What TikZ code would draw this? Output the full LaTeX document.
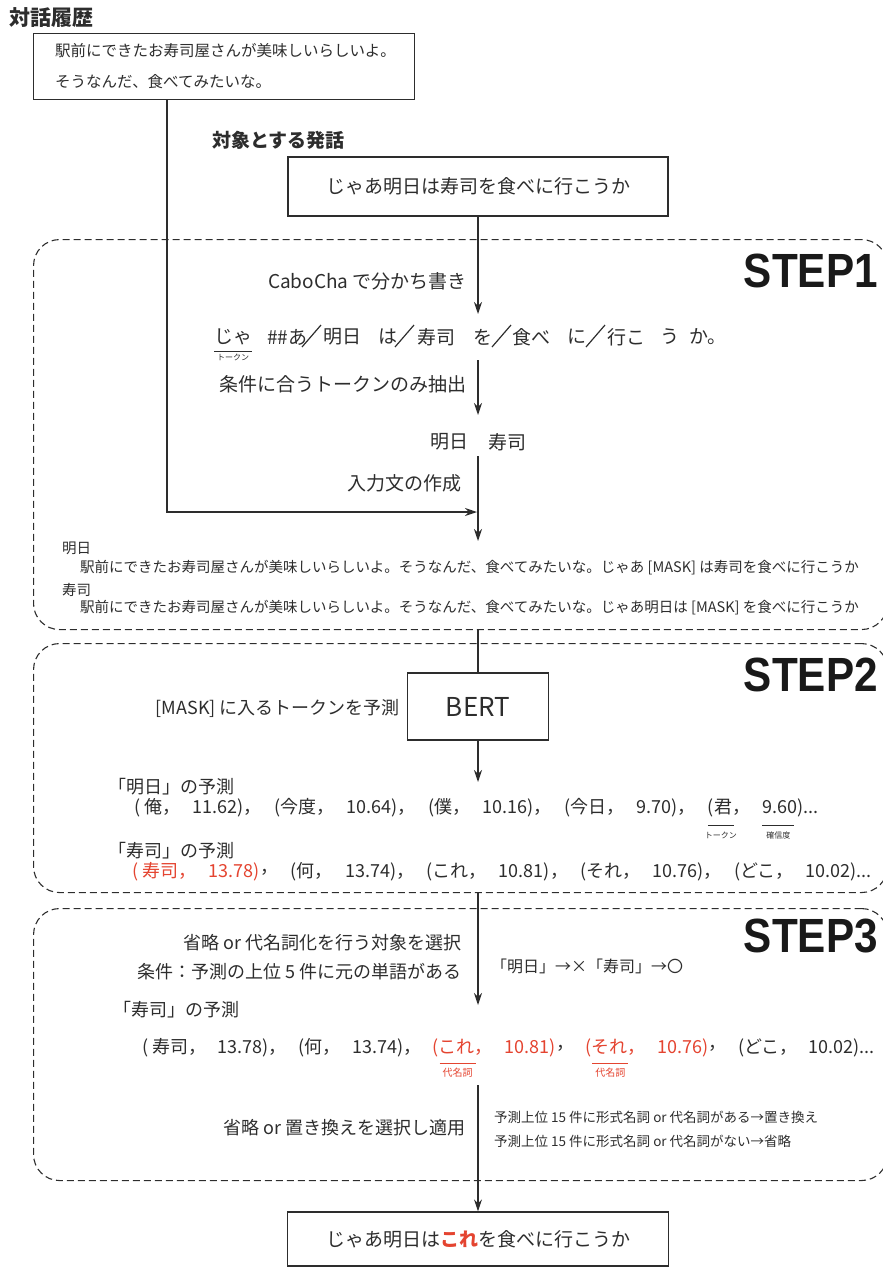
\documentclass[tikz,border=0pt]{standalone}
\usepackage{fontspec}
\usepackage{graphicx}
\setmainfont{Noto Sans CJK JP}
\newfontfamily\stepfont{Liberation Sans}
\usetikzlibrary{arrows.meta,calc}
\definecolor{ink}{RGB}{45,45,45}
\definecolor{redtxt}{RGB}{228,68,48}
\def\gapA{12}
\def\gapB{12}
\def\gapC{11.2}
\tikzset{
  box/.style={draw=ink, line width=1.2pt, inner sep=0},
  frame/.style={draw=ink, dash pattern=on 7pt off 4pt, line width=1.1pt, rounded corners=26pt, inner sep=0},
  tl/.style={inner sep=0, font=\fontsize{19}{22}\selectfont},
  tm/.style={inner sep=0, font=\fontsize{18}{21}\selectfont},
  ts/.style={inner sep=0, font=\fontsize{14.5}{17}\selectfont},
  tx/.style={inner sep=0, font=\fontsize{8}{9}\selectfont},
  tr/.style={inner sep=0, font=\fontsize{10}{11}\selectfont, text=redtxt},
  steplabel/.style={inner sep=0, font=\fontsize{48}{48}\selectfont\bfseries\stepfont, text=black!90},
  arr/.style={draw=ink, -{Stealth[length=12pt,width=8pt]}, line width=1.2pt},
  ln/.style={draw=ink, line width=1.2pt},
  ul/.style={draw=ink, line width=0.8pt},
  ulr/.style={draw=redtxt, line width=0.8pt},
}
\begin{document}
\begin{tikzpicture}[x=1pt,y=-1pt, every node/.style={text=ink}]
\useasboundingbox (0,0) rectangle (883,1267);
\clip (0,0) rectangle (883,1267);

% ---------- history ----------
\node[inner sep=0, anchor=west, font=\fontsize{21}{24}\selectfont\bfseries] (ttl) at (9,18) {対話履歴};
\node[box, minimum width=381pt, minimum height=66pt, anchor=north west] (hist) at (33,33) {};
\node[inner sep=0, anchor=west, font=\fontsize{15.5}{18}\selectfont] (h1) at (55,51) {駅前にできたお寿司屋さんが美味しいらしいよ。};
\node[inner sep=0, anchor=west, font=\fontsize{15.5}{18}\selectfont] (h2) at (55,82) {そうなんだ、食べてみたいな。};

% ---------- target ----------
\node[inner sep=0, anchor=west, font=\fontsize{19}{22}\selectfont\bfseries] (tgtlbl) at (212,140) {対象とする発話};
\node[box, tl, minimum width=380pt, minimum height=59pt] (tgt) at (478,186.5) {じゃあ明日は寿司を食べに行こうか};

% ---------- STEP1 ----------
\node[frame, minimum width=854pt, minimum height=390pt, anchor=north west] (step1) at (33,239) {};
\node[steplabel, anchor=base east] (s1) at (878,287) {\scalebox{0.88}[1]{STEP1}};

\coordinate (tokTop) at (478,314);
\draw[arr] (tgt.south) -- (tokTop);
\node[tl, anchor=east] (cabo) at (467,281) {CaboCha で分かち書き};

\node[tl, anchor=west] (k1) at (214,337) {じゃ};
\node[tl, anchor=west] (k2) at (267,337) {\#\#あ};
\node[tl, anchor=west] (k3) at (323,337) {明日};
\node[tl, anchor=west] (k4) at (378,337) {は};
\node[tl, anchor=west] (k5) at (417,337) {寿司};
\node[tl, anchor=west] (k6) at (473,337) {を};
\node[tl, anchor=west] (k7) at (512,337) {食べ};
\node[tl, anchor=west] (k8) at (567,337) {に};
\node[tl, anchor=west] (k9) at (607,337) {行こ};
\node[tl, anchor=west] (k10) at (660,337) {う};
\node[tl, anchor=west] (k11) at (689,337) {か。};
\draw[ln] (302,347) -- (321,325);
\draw[ln] (395,347) -- (414,325);
\draw[ln] (492,347) -- (511,325);
\draw[ln] (586,347) -- (605,325);
\draw[ul] (k1.west |- 0,351) -- (k1.east |- 0,351);
\node[tx] (tok1) at ($(k1.south)+(0,12)$) {トークン};

\coordinate (tokBot) at (478,360);
\coordinate (extTop) at (478,415);
\draw[arr] (tokBot) -- (extTop);
\node[tl, anchor=east] (cond) at (467,384) {条件に合うトークンのみ抽出};

\node[tl, anchor=west] (e1) at (430,442) {明日};
\node[tl, anchor=west] (e2) at (488,442) {寿司};

\coordinate (extBot) at (478,456);
\coordinate (inTip) at (478,541);
\draw[arr] (extBot) -- (inTip);
\node[tl, anchor=east] (mk) at (462,483) {入力文の作成};

\coordinate (hdown) at (167,99);
\coordinate (join) at (477,512);
\draw[arr] (hdown) |- (join);

\node[ts, anchor=west] (m1) at (62,548) {明日};
\node[ts, anchor=west] (m1s) at (80,568) {駅前にできたお寿司屋さんが美味しいらしいよ。そうなんだ、食べてみたいな。じゃあ [MASK] は寿司を食べに行こうか};
\node[ts, anchor=west] (m2) at (62,590) {寿司};
\node[ts, anchor=west] (m2s) at (80,608) {駅前にできたお寿司屋さんが美味しいらしいよ。そうなんだ、食べてみたいな。じゃあ明日は [MASK] を食べに行こうか};

% ---------- STEP2 ----------
\node[frame, minimum width=854pt, minimum height=249pt, anchor=north west] (step2) at (33,643) {};
\node[steplabel, anchor=base east] (s2) at (878,691) {\scalebox{0.88}[1]{STEP2}};

\node[box, minimum width=141pt, minimum height=67pt, font=\fontsize{26}{30}\selectfont] (bert) at (478,706.5) {BERT};
\draw[ln] (step1.south -| bert.north) -- (bert.north);
\node[tm, anchor=east] (bl) at (400,708) {[MASK] に入るトークンを予測};
\coordinate (predTip) at (478,782);
\draw[arr] (bert.south) -- (predTip);

\node[tm, anchor=west] (p1h) at (108,787) {「明日」の予測};
\node[tm, anchor=west] (a1) at (134,808) {( 俺，};
\node[tm, anchor=west] (a2) at ($(a1.east)+(\gapA,0)$) {11.62)，};
\node[tm, anchor=west] (a3) at ($(a2.east)+(\gapA,0)$) {(今度，};
\node[tm, anchor=west] (a4) at ($(a3.east)+(\gapA,0)$) {10.64)，};
\node[tm, anchor=west] (a5) at ($(a4.east)+(\gapA,0)$) {(僕，};
\node[tm, anchor=west] (a6) at ($(a5.east)+(\gapA,0)$) {10.16)，};
\node[tm, anchor=west] (a7) at ($(a6.east)+(\gapA,0)$) {(今日，};
\node[tm, anchor=west] (a8) at ($(a7.east)+(\gapA,0)$) {9.70)，};
\node[tm, anchor=west] (a9) at ($(a8.east)+(\gapA,0)$) {(君，};
\node[tm, anchor=west] (a10) at ($(a9.east)+(\gapA,0)$) {9.60)...};
\draw[ul] ($(a9.west)+(0,17)$) -- ($(a9.west)+(26,17)$);
\draw[ul] ($(a10.west)+(0,17)$) -- ($(a10.west)+(32,17)$);
\node[tx] (lt) at ($(a9.west)+(13,27)$) {トークン};
\node[tx] (lc) at ($(a10.west)+(16,27)$) {確信度};

\node[tm, anchor=west] (p2h) at (108,851) {「寿司」の予測};
\node[tm, anchor=west, text=redtxt] (b1) at (132,872) {( 寿司，};
\node[tm, anchor=west, text=redtxt] (b2) at ($(b1.east)+(\gapB,0)$) {13.78)};
\node[tm, anchor=west] (b2c) at (b2.east) {，};
\node[tm, anchor=west] (b3) at ($(b2c.east)+(\gapB,0)$) {(何，};
\node[tm, anchor=west] (b4) at ($(b3.east)+(\gapB,0)$) {13.74)，};
\node[tm, anchor=west] (b5) at ($(b4.east)+(\gapB,0)$) {(これ，};
\node[tm, anchor=west] (b6) at ($(b5.east)+(\gapB,0)$) {10.81)，};
\node[tm, anchor=west] (b7) at ($(b6.east)+(\gapB,0)$) {(それ，};
\node[tm, anchor=west] (b8) at ($(b7.east)+(\gapB,0)$) {10.76)，};
\node[tm, anchor=west] (b9) at ($(b8.east)+(\gapB,0)$) {(どこ，};
\node[tm, anchor=west] (b10) at ($(b9.east)+(\gapB,0)$) {10.02)...};

% ---------- STEP3 ----------
\node[frame, minimum width=854pt, minimum height=272pt, anchor=north west] (step3) at (33,908) {};
\node[steplabel, anchor=base east] (s3) at (878,952) {\scalebox{0.88}[1]{STEP3}};

\coordinate (selTip) at (478,1005);
\draw[arr] (step2.south -| 478,0) -- (selTip);
\node[tm, anchor=east] (sel1) at (462,943) {省略 or 代名詞化を行う対象を選択};
\node[tm, anchor=east] (sel2) at (462,972) {条件：予測の上位 5 件に元の単語がある};
\node[inner sep=0, anchor=west, font=\fontsize{16}{19}\selectfont] (selr) at (491,966) {「明日」→×「寿司」→〇};

\node[tm, anchor=west] (p3h) at (113,1010) {「寿司」の予測};
\node[tm, anchor=west] (c1) at (142,1048) {( 寿司，};
\node[tm, anchor=west] (c2) at ($(c1.east)+(\gapC,0)$) {13.78)，};
\node[tm, anchor=west] (c3) at ($(c2.east)+(\gapC,0)$) {(何，};
\node[tm, anchor=west] (c4) at ($(c3.east)+(\gapC,0)$) {13.74)，};
\node[tm, anchor=west, text=redtxt] (c5) at ($(c4.east)+(\gapC,0)$) {(これ，};
\node[tm, anchor=west, text=redtxt] (c6) at ($(c5.east)+(\gapC,0)$) {10.81)};
\node[tm, anchor=west] (c6c) at (c6.east) {，};
\node[tm, anchor=west, text=redtxt] (c7) at ($(c6c.east)+(\gapC,0)$) {(それ，};
\node[tm, anchor=west, text=redtxt] (c8) at ($(c7.east)+(\gapC,0)$) {10.76)};
\node[tm, anchor=west] (c8c) at (c8.east) {，};
\node[tm, anchor=west] (c9) at ($(c8c.east)+(\gapC,0)$) {(どこ，};
\node[tm, anchor=west] (c10) at ($(c9.east)+(\gapC,0)$) {10.02)...};
\draw[ulr] ($(c5.west)+(7,15)$) -- ($(c5.west)+(43,15)$);
\draw[ulr] ($(c7.west)+(7,15)$) -- ($(c7.west)+(43,15)$);
\node[tr] (d1) at ($(c5.west)+(25,25)$) {代名詞};
\node[tr] (d2) at ($(c7.west)+(25,25)$) {代名詞};

\coordinate (apBot) at (478,1085);
\node[box, tl, minimum width=381pt, minimum height=54pt] (fin) at (478,1239) {じゃあ明日は{\bfseries\color{redtxt}これ}を食べに行こうか};
\draw[arr] (apBot) -- (fin.north);
\node[tm, anchor=east] (ap) at (466,1128) {省略 or 置き換えを選択し適用};
\node[inner sep=0, anchor=west, font=\fontsize{13.5}{16}\selectfont] (ap1) at (494,1117) {予測上位 15 件に形式名詞 or 代名詞がある→置き換え};
\node[inner sep=0, anchor=west, font=\fontsize{13.5}{16}\selectfont] (ap2) at (494,1141) {予測上位 15 件に形式名詞 or 代名詞がない→省略};
\end{tikzpicture}
\end{document}
